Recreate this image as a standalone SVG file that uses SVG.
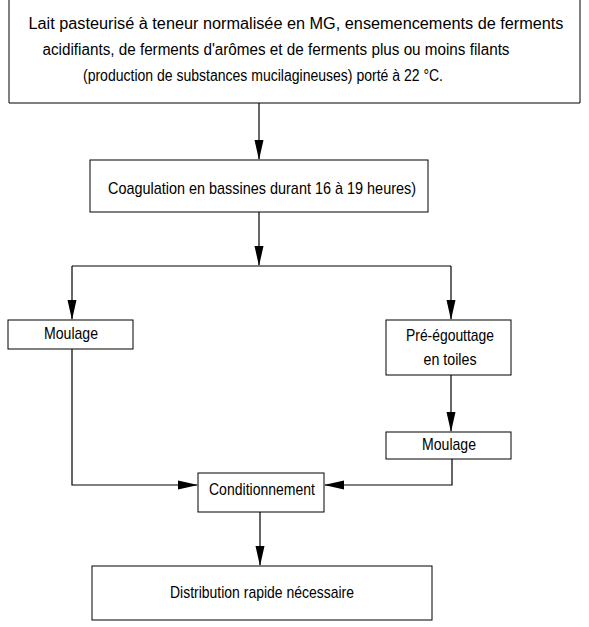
<svg xmlns="http://www.w3.org/2000/svg" width="589" height="627" viewBox="0 0 589 627">
<defs>
<style>
.box{fill:#fff;stroke:#000;stroke-width:1}
.t{font-family:"Liberation Sans",Arial,sans-serif;font-size:16px;fill:#000;text-anchor:middle}
.s{font-size:17px}
.c{fill:none;stroke:#000;stroke-width:1.2}
</style>
<marker id="ah" markerUnits="userSpaceOnUse" markerWidth="20" markerHeight="10" refX="19" refY="5" orient="auto" viewBox="0 0 20 10">
<path d="M0,0.5 L20,5 L0,9.5 Z" fill="#000"/>
</marker>
</defs>
<rect width="589" height="627" fill="#fff"/>
<g id="n1">
<path class="box" d="M9,0 V103 H580 V0"/>
<text class="t" x="296" y="29" textLength="535" lengthAdjust="spacingAndGlyphs">Lait pasteurisé à teneur normalisée en MG, ensemencements de ferments</text>
<text class="t" x="276" y="55" textLength="467" lengthAdjust="spacingAndGlyphs">acidifiants, de ferments d'arômes et de ferments plus ou moins filants</text>
<text class="t" x="263" y="81" textLength="360" lengthAdjust="spacingAndGlyphs">(production de substances mucilagineuses) porté à 22 °C.</text>
</g>
<g id="n2">
<rect class="box" x="90" y="160" width="338" height="52"/>
<text class="t s" x="262" y="194" textLength="308" lengthAdjust="spacingAndGlyphs">Coagulation en bassines durant 16 à 19 heures)</text>
</g>
<g id="n3">
<rect class="box" x="8" y="320" width="125" height="29"/>
<text class="t s" x="71" y="339" textLength="54" lengthAdjust="spacingAndGlyphs">Moulage</text>
</g>
<g id="n4">
<rect class="box" x="386" y="320" width="125" height="55"/>
<text class="t s" x="450" y="341" textLength="88" lengthAdjust="spacingAndGlyphs">Pré-égouttage</text>
<text class="t s" x="450" y="365" textLength="53" lengthAdjust="spacingAndGlyphs">en toiles</text>
</g>
<g id="n5">
<rect class="box" x="386" y="432" width="125" height="27"/>
<text class="t s" x="449" y="450" textLength="54" lengthAdjust="spacingAndGlyphs">Moulage</text>
</g>
<g id="n6">
<rect class="box" x="198" y="473" width="126" height="39"/>
<text class="t s" x="262" y="495" textLength="106" lengthAdjust="spacingAndGlyphs">Conditionnement</text>
</g>
<g id="n7">
<rect class="box" x="92" y="566" width="340" height="54"/>
<text class="t s" x="262" y="598" textLength="184" lengthAdjust="spacingAndGlyphs">Distribution rapide nécessaire</text>
</g>
<g id="connectors">
<path class="c" d="M259,103 V159" marker-end="url(#ah)"/>
<path class="c" d="M259,212 V265" marker-end="url(#ah)"/>
<path class="c" d="M72,266 H451"/>
<path class="c" d="M72,266 V319" marker-end="url(#ah)"/>
<path class="c" d="M451,266 V319" marker-end="url(#ah)"/>
<path class="c" d="M451,375 V431" marker-end="url(#ah)" stroke-width="2"/>
<path class="c" d="M72,349 V485 H197" marker-end="url(#ah)"/>
<path class="c" d="M452,459 V485 H325" marker-end="url(#ah)"/>
<path class="c" d="M260,512 V565" marker-end="url(#ah)"/>
</g>
</svg>
